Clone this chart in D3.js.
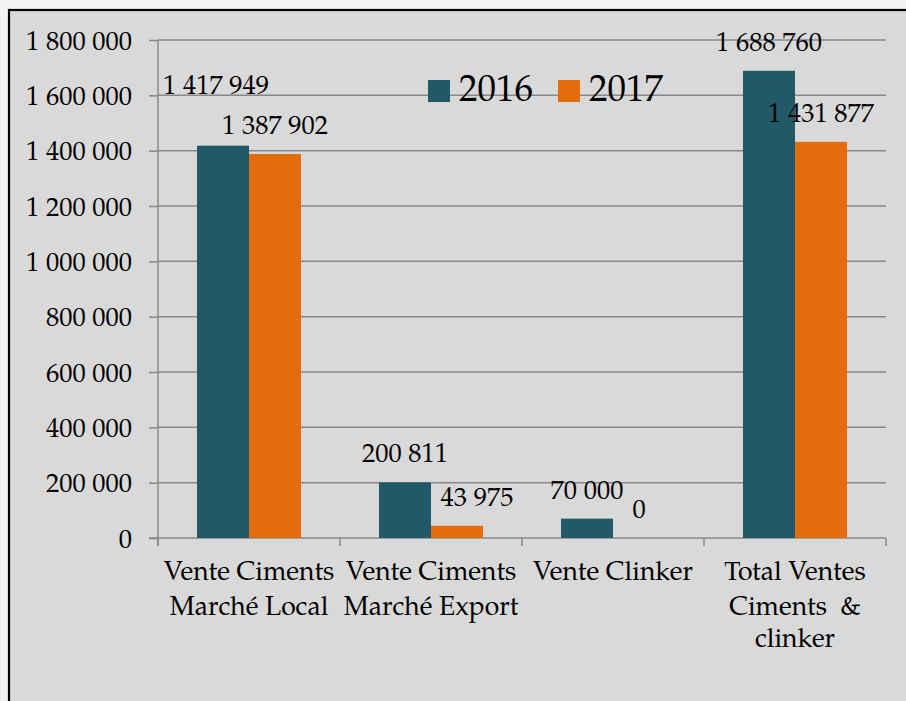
<!DOCTYPE html>
<html>
<head>
<meta charset="utf-8">
<script src="https://cdn.jsdelivr.net/npm/d3@7/dist/d3.min.js"></script>
<style>
  html, body { margin: 0; padding: 0; background: #f1f2f4; }
  svg { display: block; }
  svg text { font-family: "TeX Gyre Pagella", "Liberation Serif", serif; fill: #000; }
</style>
</head>
<body>
<div id="chart"></div>
<script>
// --- data ---
const categories = ['local', 'export', 'clinker', 'total'];
const categoryLines = [
  ['Vente Ciments', 'Marché Local'],
  ['Vente Ciments', 'Marché Export'],
  ['Vente Clinker'],
  ['Total Ventes', 'Ciments  &', 'clinker'],
];
const seriesNames = ['2016', '2017'];
const values2016 = [1417949, 200811, 70000, 1688760];
const values2017 = [1387902, 43975, 0, 1431877];
const yTicks = [0, 200000, 400000, 600000, 800000, 1000000, 1200000, 1400000, 1600000, 1800000];

const COLORS = { '2016': '#215968', '2017': '#e46c0a' };
// labels that were dragged by hand in the original
const labelNudge = { 'local-2016': [-7, -32], 'export-2017': [20, 0] };

const W = 906, H = 701;
const m = { t: 40, l: 158 };
const plotR = 886, plotB = 538;
const FONT = '"TeX Gyre Pagella", "Liberation Serif", serif';

const svg = d3.select('#chart').append('svg').attr('width', W).attr('height', H);

// frame
svg.append('rect').attr('x', 9).attr('y', 10).attr('width', W + 20).attr('height', H + 20)
  .attr('fill', '#d9d9d9').attr('stroke', '#000').attr('stroke-width', 2.2);

const x0 = d3.scaleBand().domain(categories).range([m.l, plotR]).paddingInner(0).paddingOuter(0);
const x1 = d3.scaleBand().domain(seriesNames).range([0, x0.bandwidth()]).paddingInner(0).paddingOuter(0.75);
const y = d3.scaleLinear().domain([0, 1800000]).range([plotB, m.t]);

const fmt = v => d3.format(',')(v).replace(/,/g, ' ');

// gridlines
svg.append('g').selectAll('line').data(yTicks.filter(d => d > 0)).join('line')
  .attr('x1', m.l).attr('x2', plotR)
  .attr('y1', d => y(d)).attr('y2', d => y(d))
  .attr('stroke', '#888').attr('stroke-width', 1.5);

// y axis
const yAxis = svg.append('g').attr('transform', `translate(${m.l},0)`)
  .call(d3.axisLeft(y).tickValues(yTicks).tickSizeInner(9).tickSizeOuter(0).tickPadding(17).tickFormat(fmt))
  .attr('font-family', FONT).attr('font-size', 26.5);
yAxis.select('.domain').attr('stroke', '#888').attr('stroke-width', 1.5)
  .attr('d', `M0,${m.t}V${plotB + 8}`);
yAxis.selectAll('.tick line').attr('stroke', '#888').attr('stroke-width', 1.5);
yAxis.selectAll('.tick text').attr('fill', '#000').attr('dy', '0.34em');

// x axis
const xAxis = svg.append('g').attr('transform', `translate(0,${plotB})`);
xAxis.append('line').attr('x1', m.l - 9).attr('x2', plotR).attr('y1', 0).attr('y2', 0)
  .attr('stroke', '#888').attr('stroke-width', 1.5);
const edges = categories.map(c => x0(c)).concat([x0(categories[categories.length - 1]) + x0.bandwidth()]);
xAxis.selectAll('.xt').data(edges).join('line').attr('class', 'xt')
  .attr('x1', d => d).attr('x2', d => d).attr('y1', 0).attr('y2', 8)
  .attr('stroke', '#888').attr('stroke-width', 1.5);

const catLabels = svg.append('g').selectAll('text').data(categories).join('text')
  .attr('x', d => x0(d) + x0.bandwidth() / 2)
  .attr('y', 580)
  .attr('text-anchor', 'middle').attr('font-size', 26.5)
  .style('white-space', 'pre');
catLabels.each(function(d, i) {
  d3.select(this).selectAll('tspan').data(categoryLines[i]).join('tspan')
    .attr('x', x0(d) + x0.bandwidth() / 2)
    .attr('dy', (t, j) => j === 0 ? 0 : (j === 1 ? 35 : 32))
    .text(t => t);
});

// bars
const rows = categories.map((c, i) => ({ cat: c, vals: [
  { key: '2016', v: values2016[i] }, { key: '2017', v: values2017[i] } ] }));

const groups = svg.append('g').selectAll('g').data(rows).join('g')
  .attr('transform', d => `translate(${x0(d.cat)},0)`);

groups.selectAll('rect').data(d => d.vals).join('rect')
  .attr('x', d => x1(d.key)).attr('width', x1.bandwidth())
  .attr('y', d => y(d.v)).attr('height', d => plotB - y(d.v))
  .attr('fill', d => COLORS[d.key]);

groups.each(function(row) {
  d3.select(this).selectAll('text.val').data(row.vals).join('text').attr('class', 'val')
    .attr('x', d => x1(d.key) + x1.bandwidth() / 2 + (labelNudge[row.cat + '-' + d.key] || [0, 0])[0])
    .attr('y', d => y(d.v) - 20 + (labelNudge[row.cat + '-' + d.key] || [0, 0])[1])
    .attr('text-anchor', 'middle').attr('font-size', 26.5)
    .text(d => fmt(d.v));
});

// legend
const leg = svg.append('g');
const legX = [428, 558];
seriesNames.forEach((s, i) => {
  leg.append('rect').attr('x', legX[i]).attr('y', 80).attr('width', 22).attr('height', 22)
    .attr('fill', COLORS[s]);
  leg.append('text').attr('x', legX[i] + 31).attr('y', 101).attr('font-size', 37).text(s);
});
</script>
</body>
</html>
